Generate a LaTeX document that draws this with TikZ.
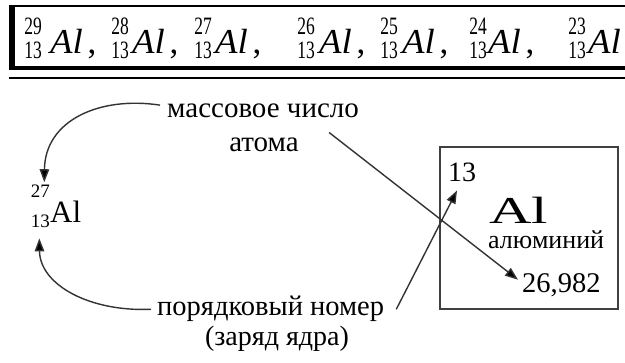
\documentclass[tikz,border=0pt]{standalone}
\usepackage{fontspec}
\setmainfont{Liberation Serif}
\usetikzlibrary{arrows.meta}
\begin{document}
\begin{tikzpicture}[x=1pt,y=-1pt,
  txt/.style={inner sep=0pt, anchor=base west},
  txte/.style={inner sep=0pt, anchor=base east},
  fs/.style={font=\fontsize{#1}{#1}\selectfont},
  conn/.style={draw=black!80, line width=1.4pt, -{Triangle[length=13pt,width=9.5pt,fill=black]}},
  frame/.style={draw=black},
]
\useasboundingbox (0,0) rectangle (625,363);
\fill[white] (0,0) rectangle (625,363);
% top frame
\draw[frame, line width=2.5pt] (9,6) -- (625,6);
\draw[frame, line width=6pt] (12,4.75) -- (12,70);
\draw[frame, line width=4pt] (9,68.5) -- (625,68.5);
\draw[frame, line width=2.5pt] (9,78) -- (625,78);
% isotopes
\foreach \a/\sx/\alx [count=\i] in {29/42/50, 28/129/132, 27/212/215, 26/315/319, 25/398/402, 24/487/488, 23/586/588}{
  \node[txte, fs=25] (up\i) at (\sx,35) {\scalebox{0.7}[1]{\a}};
  \node[txte, fs=25] (lo\i) at (\sx,59) {\scalebox{0.7}[1]{13}};
  \node[txt, fs=35] (al\i) at (\alx,54) {\scalebox{1.05}[1]{\textit{Al}}};
}
\foreach \i in {1,...,6}{
  \node[inner sep=0pt, anchor=base, fs=35] (cm\i) at ([xshift=9pt]al\i.base east) {,};
}
% left symbol
\node[txte, fs=19] (sup27) at (50,198) {27};
\node[txte, fs=19] (sub13) at (50,228) {13};
\node[txt, fs=31] (alL) at (50,223) {Al};
% labels
\node[txt, fs=29] (mass1) at (167,118) {массовое число};
\node[inner sep=0pt, anchor=base, fs=29] (mass2) at (264,152) {атома};
\node[txt, fs=28.5] (port1) at (157,316) {порядковый номер};
\node[inner sep=0pt, anchor=base, fs=28] (port2) at (277,346) {(заряд ядра)};
% element cell
\node[draw=black!75, line width=1.3pt, minimum width=178pt, minimum height=162pt, inner sep=0pt] (cell) at (529,228) {};
\node[txt, fs=28] (cnum) at (448,182) {13};
\node[txt, fs=38] (csym) at (489,224) {\scalebox{1.55}[1]{Al}};
\node[txt, fs=26] (cname) at (488,249) {алюминий};
\node[txt, fs=28.5] (cmass) at (522,293) {26,982};
% connectors
\draw[conn] ([xshift=-7pt,yshift=-1pt]mass1.north west) .. controls (100,96) and (45,120) .. ([xshift=4pt,yshift=3pt]sup27.north);
\draw[conn] ([xshift=-6pt]port1.west) .. controls (90,312) and (40,285) .. ([xshift=-1pt,yshift=-10pt]sub13.south);
\draw[conn] ([xshift=-30pt,yshift=-14pt]mass1.south east) -- ([xshift=-4pt,yshift=6pt]cmass.west);
\draw[conn] ([xshift=12pt]port1.east) -- ([xshift=9pt,yshift=-8pt]cnum.south west);
\end{tikzpicture}
\end{document}
